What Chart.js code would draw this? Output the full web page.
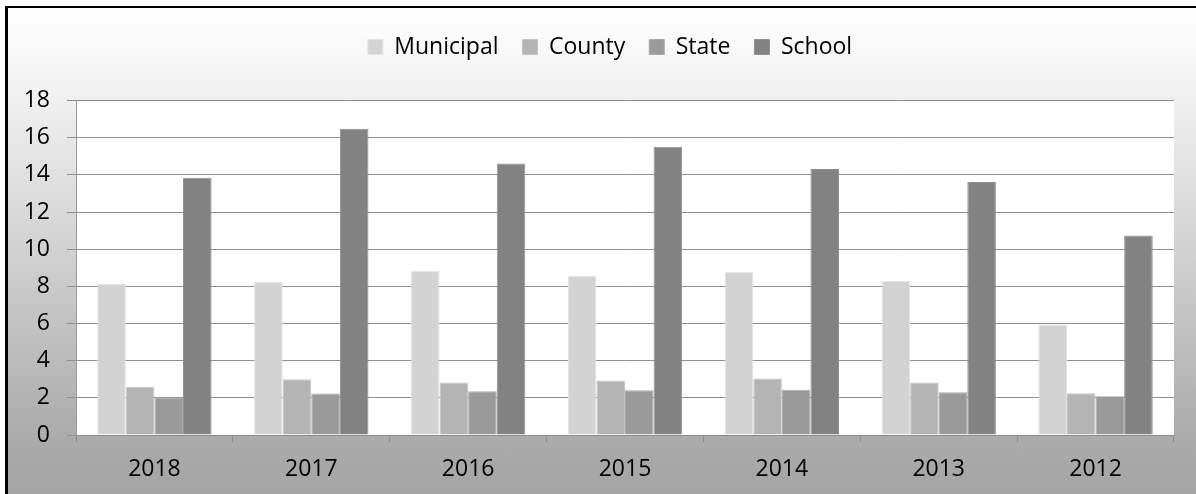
<!DOCTYPE html>
<html>
<head>
<meta charset="utf-8">
<script src="https://cdn.jsdelivr.net/npm/chart.js@4/dist/chart.umd.min.js"></script>
<style>
  html, body { margin: 0; padding: 0; background: #ffffff; overflow: hidden; width: 1196px; height: 494px; }
  #frame {
    position: absolute; left: 5px; top: 6px; width: 1300px; height: 600px;
    border-left: 3px solid #000; border-top: 2px solid #000;
    background: linear-gradient(to bottom, #ffffff 0px, #f0f0f0 90px, #e4e4e4 150px, #ababab 430px, #a4a4a4 486px, #a4a4a4 600px);
  }
  #c { position: absolute; left: 0; top: 0; }
</style>
</head>
<body>
<div id="frame"></div>
<canvas id="c" width="1196" height="494"></canvas>
<script>
const categories = ['2018', '2017', '2016', '2015', '2014', '2013', '2012'];
const seriesNames = ['Municipal', 'County', 'State', 'School'];
const municipal = [8.14, 8.23, 8.82, 8.57, 8.79, 8.30, 5.95];
const county    = [2.60, 3.00, 2.82, 2.93, 3.04, 2.82, 2.25];
const state     = [2.01, 2.23, 2.35, 2.41, 2.43, 2.30, 2.09];
const school    = [13.84, 16.48, 14.61, 15.51, 14.32, 13.62, 10.74];
const yTicks = { min: 0, max: 18, step: 2 };

const fills   = ['#d3d3d3', '#b4b4b4', '#9a9a9a', '#828282'];
const borders = ['#e4e4e4', '#c4c4c4', '#a8a8a8', '#909090'];
const values = [municipal, county, state, school];

const FONT = "'Open Sans', sans-serif";
const LEGEND_EXTRA = 32;     // gap between legend and plot area
const LEGEND_SHIFT = 23;     // legend horizontal offset

const plotBg = {
  id: 'plotBg',
  beforeLayout(chart) {
    const lg = chart.legend;
    if (lg && !lg._patched) {
      const orig = lg.fit.bind(lg);
      lg.fit = function () { orig(); this.height += LEGEND_EXTRA; };
      lg._patched = true;
    }
  },
  afterLayout(chart) {
    const lg = chart.legend;
    if (lg) { lg.left += LEGEND_SHIFT; lg.right += LEGEND_SHIFT; }
  },
  beforeDraw(chart) {
    const { ctx, chartArea: a } = chart;
    ctx.save();
    ctx.fillStyle = '#ffffff';
    ctx.fillRect(a.left, a.top, a.right - a.left, a.bottom - a.top);
    ctx.restore();
  }
};

new Chart(document.getElementById('c'), {
  type: 'bar',
  data: {
    labels: categories,
    datasets: seriesNames.map((n, i) => ({
      label: n,
      data: values[i],
      backgroundColor: fills[i],
      borderColor: borders[i],
      borderWidth: 1,
      barPercentage: 1.0,
      categoryPercentage: 0.729
    }))
  },
  options: {
    responsive: false,
    animation: false,
    events: [],
    layout: { padding: { top: 11.5, left: 0, right: 22, bottom: 0 } },
    plugins: {
      legend: {
        position: 'top',
        labels: {
          boxWidth: 15, boxHeight: 15, padding: 24,
          color: '#000000',
          font: { family: FONT, size: 23 }
        }
      },
      tooltip: { enabled: false }
    },
    scales: {
      x: {
        grid: { offset: true, drawOnChartArea: false, drawTicks: true, tickLength: 7, color: '#8c8c8c' },
        border: { display: true, color: '#8c8c8c', width: 1 },
        ticks: { color: '#000000', font: { family: FONT, size: 23 }, padding: 14, maxRotation: 0 },
        afterFit(axis) { axis.height = 59; }
      },
      y: {
        min: yTicks.min, max: yTicks.max,
        grid: { color: '#8f8f8f', lineWidth: 1, tickLength: 9, drawTicks: true },
        border: { display: true, color: '#9a9a9a', width: 1 },
        ticks: { stepSize: yTicks.step, color: '#000000', font: { family: FONT, size: 23 }, padding: 17 },
        afterFit(axis) { axis.width = 76; }
      }
    }
  },
  plugins: [plotBg]
});
</script>
</body>
</html>
